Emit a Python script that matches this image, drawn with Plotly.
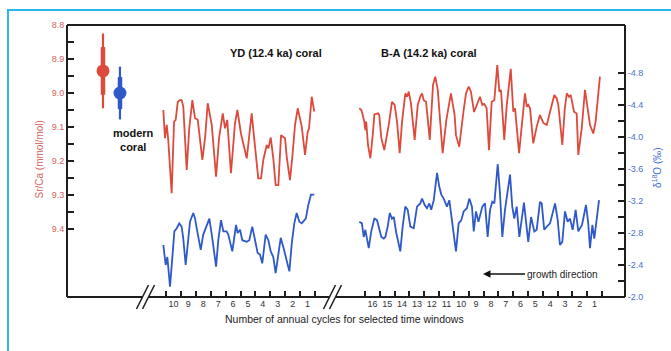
import plotly.graph_objects as go

# ---------------- data ----------------
# YD (12.4 ka) coral, x = annual cycles before the end of the window
yd_srca_cycle = [10.18, 10.07, 9.95, 9.85, 9.62, 9.46, 9.35, 9.21, 9.06, 8.95,
                 8.84, 8.61, 8.44, 8.23, 8.05, 7.87, 7.56, 7.38, 7.20, 6.93,
                 6.64, 6.44, 6.19, 6.04, 5.89, 5.64, 5.37, 5.21, 4.97, 4.58,
                 4.25, 4.03, 3.81, 3.62, 3.47, 3.24, 3.13, 2.97, 2.80, 2.64,
                 2.46, 2.28, 2.01, 1.90, 1.68, 1.52, 1.34, 1.16, 0.89, 0.67,
                 0.49, 0.40, 0.22, 0.05]
yd_srca = [9.050, 9.133, 9.094, 9.138, 9.295, 9.084, 9.079, 9.026, 9.021, 9.021,
           9.040, 9.226, 9.104, 9.021, 9.074, 9.079, 9.197, 9.133, 9.030, 9.094,
           9.246, 9.133, 9.060, 9.104, 9.079, 9.236, 9.089, 9.050, 9.119, 9.192,
           9.060, 9.163, 9.251, 9.251, 9.197, 9.153, 9.163, 9.131, 9.192, 9.271,
           9.271, 9.124, 9.133, 9.187, 9.256, 9.187, 9.094, 9.045, 9.099, 9.182,
           9.114, 9.104, 9.011, 9.055]

yd_d18o_cycle = [10.18, 10.02, 9.91, 9.85, 9.73, 9.58, 9.44, 9.28, 9.11, 8.95,
                 8.84, 8.68, 8.50, 8.39, 8.17, 8.05, 7.94, 7.67, 7.50, 7.34,
                 7.09, 6.89, 6.64, 6.49, 6.31, 6.15, 5.93, 5.82, 5.55, 5.30,
                 5.19, 5.03, 4.88, 4.58, 4.41, 4.21, 4.03, 3.85, 3.69, 3.54,
                 3.31, 3.13, 2.97, 2.80, 2.64, 2.46, 2.30, 2.08, 1.90, 1.72,
                 1.56, 1.39, 1.23, 1.05, 0.89, 0.62, 0.45, 0.27, 0.05]
yd_d18o = [-2.65, -2.40, -2.50, -2.40, -2.13, -2.48, -2.82, -2.86, -2.92, -2.88,
           -2.73, -2.40, -2.78, -2.94, -3.05, -2.98, -2.86, -2.59, -2.78, -2.86,
           -2.98, -2.73, -2.38, -2.71, -2.96, -2.82, -2.82, -2.78, -2.57, -2.90,
           -2.80, -2.84, -2.71, -2.69, -2.71, -2.88, -2.73, -2.55, -2.53, -2.42,
           -2.78, -2.71, -2.57, -2.50, -2.30, -2.57, -2.74, -2.59, -2.44, -2.32,
           -2.67, -2.92, -3.05, -2.94, -2.92, -2.98, -3.15, -3.28, -3.28]

# B-A (14.2 ka) coral
ba_srca_cycle = [16.39, 16.25, 16.16, 16.05, 15.98, 15.92, 15.80, 15.64, 15.48, 15.37,
                 15.12, 15.04, 14.90, 14.70, 14.40, 14.18, 14.00, 13.84, 13.66, 13.50,
                 13.28, 13.17, 13.05, 12.90, 12.65, 12.44, 12.27, 12.15, 12.04, 11.88,
                 11.63, 11.41, 11.26, 11.09, 10.76, 10.51, 10.20, 9.95, 9.86, 9.64,
                 9.34, 9.18, 9.00, 8.85, 8.64, 8.24, 8.08, 7.95, 7.79, 7.63,
                 7.45, 7.27, 7.07, 6.93, 6.82, 6.60, 6.43, 6.16, 5.99, 5.87,
                 5.60, 5.42, 5.20, 5.08, 4.98, 4.86, 4.64, 4.41, 4.19, 3.96,
                 3.73, 3.51, 3.22, 3.06, 2.95, 2.68, 2.52, 2.38, 2.23, 2.11,
                 1.89, 1.71, 1.60, 1.37, 1.15, 0.97, 0.81, 0.59, 0.43, 0.14]
ba_srca = [9.045, 9.050, 9.065, 9.084, 9.109, 9.084, 9.153, 9.192, 9.124, 9.063,
           9.060, 9.065, 9.133, 9.168, 9.094, 9.026, 9.035, 9.084, 9.177, 9.084,
           9.001, 9.011, 8.996, 9.030, 9.138, 9.035, 9.011, 9.001, 9.021, 9.026,
           9.138, 8.976, 8.952, 8.991, 9.177, 9.079, 9.001, 9.065, 9.124, 9.158,
           9.050, 9.001, 8.981, 8.996, 9.056, 9.011, 9.035, 9.032, 9.044, 9.168,
           9.026, 9.021, 8.918, 8.996, 8.991, 9.138, 9.035, 8.929, 9.055, 9.045,
           9.177, 9.094, 9.001, 9.040, 9.035, 9.045, 9.148, 9.099, 9.065, 9.088,
           9.094, 9.056, 9.006, 9.016, 9.035, 9.153, 9.050, 9.001, 9.011, 9.006,
           9.055, 9.060, 9.182, 9.104, 8.991, 9.045, 9.094, 9.119, 9.084, 8.952]

ba_d18o_cycle = [16.39, 16.21, 16.09, 15.98, 15.87, 15.75, 15.58, 15.37, 15.19, 15.08,
                 14.90, 14.74, 14.63, 14.47, 14.33, 14.18, 14.06, 13.89, 13.62, 13.46,
                 13.28, 13.12, 12.94, 12.71, 12.49, 12.27, 12.15, 11.97, 11.82, 11.66,
                 11.53, 11.36, 11.14, 10.99, 10.85, 10.69, 10.47, 10.31, 10.13, 9.86,
                 9.68, 9.50, 9.34, 9.12, 8.96, 8.78, 8.66, 8.51, 8.34, 8.08,
                 7.90, 7.72, 7.56, 7.41, 7.27, 7.04, 6.89, 6.73, 6.55, 6.21,
                 6.06, 5.92, 5.76, 5.58, 5.27, 5.08, 4.98, 4.79, 4.57, 4.41,
                 4.19, 4.07, 3.90, 3.73, 3.51, 3.36, 3.17, 2.99, 2.84, 2.68,
                 2.50, 2.32, 2.16, 1.98, 1.78, 1.60, 1.35, 1.08, 0.93, 0.81,
                 0.65, 0.52, 0.36, 0.20]
ba_d18o = [-2.94, -2.92, -2.75, -2.84, -2.73, -2.61, -2.82, -2.98, -2.96, -2.88,
           -2.75, -2.73, -2.75, -2.88, -3.05, -2.98, -3.00, -2.80, -2.57, -2.88,
           -3.13, -3.09, -2.88, -2.86, -3.13, -3.17, -3.23, -3.15, -3.11, -3.17,
           -3.09, -3.21, -3.55, -3.38, -3.28, -3.23, -3.13, -3.21, -2.96, -2.57,
           -2.92, -2.96, -3.07, -3.11, -3.23, -3.13, -2.82, -3.07, -2.94, -3.13,
           -3.17, -2.75, -3.09, -3.19, -3.17, -3.66, -3.30, -2.75, -3.09, -3.53,
           -3.13, -2.98, -3.13, -2.75, -3.18, -2.88, -2.69, -3.00, -2.82, -2.84,
           -3.19, -3.17, -2.84, -2.88, -2.92, -3.03, -3.17, -2.96, -2.65, -2.69,
           -3.07, -2.94, -2.98, -2.84, -3.09, -2.82, -2.90, -3.15, -2.92, -2.61,
           -2.90, -2.73, -3.00, -3.21]

# modern coral
modern_proxy = ["Sr/Ca", "d18O"]
modern_srca = [8.935]
modern_srca_err1 = [0.07]
modern_srca_err2 = [0.11]
modern_d18o = [-4.55]
modern_d18o_err1 = [0.20]
modern_d18o_err2 = [0.33]

yd_cycle_labels = ["10", "9", "8", "7", "6", "5", "4", "3", "2", "1"]
ba_cycle_labels = ["16", "15", "14", "13", "12", "11", "10", "9", "8", "7",
                   "6", "5", "4", "3", "2", "1"]
srca_ticks = [8.8, 8.9, 9.0, 9.1, 9.2, 9.3, 9.4]
srca_minor = [8.85, 8.95, 9.05, 9.15, 9.25, 9.35]
d18o_ticks = [-2.0, -2.4, -2.8, -3.2, -3.6, -4.0, -4.4, -4.8]
d18o_minor = [-2.2, -2.6, -3.0, -3.4, -3.8, -4.2, -4.6]

# ---------------- styling / geometry ----------------
W, H = 671, 351
PL, PR, PT, PB = 67, 625, 25, 297
RED = "#dd4a3c"
BLUE = "#2f58c9"
RED_TXT = "#d3645d"
BLUE_TXT = "#4a6fd3"
INK = "#1e1e1e"
FONT = "Liberation Sans, Arial, sans-serif"


def X(px):
    return (px - PL) / (PR - PL)


def Y(py):
    return (PB - py) / (PB - PT)


# cycle scales (pixels per cycle and pixel of cycle 0)
YD_PPC, YD_ZERO = 14.9, 315.0
BA_PPC, BA_ZERO = 14.81, 602.0
yd_dom = (148, 331)
ba_dom = (336, PR)

fig = go.Figure()

line_r = dict(color=RED, width=1.8)
line_b = dict(color=BLUE, width=1.8)
fig.add_trace(go.Scatter(x=yd_srca_cycle, y=yd_srca, mode="lines", line=line_r,
                         xaxis="x", yaxis="y", showlegend=False))
fig.add_trace(go.Scatter(x=yd_d18o_cycle, y=yd_d18o, mode="lines", line=line_b,
                         xaxis="x", yaxis="y2", showlegend=False))
fig.add_trace(go.Scatter(x=ba_srca_cycle, y=ba_srca, mode="lines", line=line_r,
                         xaxis="x2", yaxis="y", showlegend=False))
fig.add_trace(go.Scatter(x=ba_d18o_cycle, y=ba_d18o, mode="lines", line=line_b,
                         xaxis="x2", yaxis="y2", showlegend=False))

# modern coral: thin (2 sigma) and thick (1 sigma) bars with dot
fig.add_trace(go.Scatter(x=[modern_proxy[0]], y=modern_srca, mode="markers",
                         marker=dict(size=1, color=RED, opacity=0),
                         error_y=dict(type="data", array=modern_srca_err2, width=0,
                                      thickness=2.2, color=RED),
                         xaxis="x3", yaxis="y", showlegend=False))
fig.add_trace(go.Scatter(x=[modern_proxy[0]], y=modern_srca, mode="markers",
                         marker=dict(size=13, color=RED),
                         error_y=dict(type="data", array=modern_srca_err1, width=0,
                                      thickness=4.5, color=RED),
                         xaxis="x3", yaxis="y", showlegend=False))
fig.add_trace(go.Scatter(x=[modern_proxy[1]], y=modern_d18o, mode="markers",
                         marker=dict(size=1, color=BLUE, opacity=0),
                         error_y=dict(type="data", array=modern_d18o_err2, width=0,
                                      thickness=2.2, color=BLUE),
                         xaxis="x3", yaxis="y2", showlegend=False))
fig.add_trace(go.Scatter(x=[modern_proxy[1]], y=modern_d18o, mode="markers",
                         marker=dict(size=13, color=BLUE),
                         error_y=dict(type="data", array=modern_d18o_err1, width=0,
                                      thickness=4.5, color=BLUE),
                         xaxis="x3", yaxis="y2", showlegend=False))

tickfont = dict(family=FONT, size=9, color="#333")
common_x = dict(showgrid=False, zeroline=False, showline=False, anchor="y",
                ticks="", tickfont=tickfont, automargin=False)

fig.update_layout(
    width=W, height=H, autosize=False,
    margin=dict(l=PL, r=W - PR, t=PT, b=H - PB, pad=0, autoexpand=False),
    paper_bgcolor="white", plot_bgcolor="white",
    font=dict(family=FONT, color=INK),
    xaxis=dict(common_x, domain=[X(yd_dom[0]), X(yd_dom[1])],
               range=[(YD_ZERO - yd_dom[0]) / YD_PPC, (YD_ZERO - yd_dom[1]) / YD_PPC],
               tickmode="array",
               tickvals=[len(yd_cycle_labels) - i - 0.5 for i in range(len(yd_cycle_labels))],
               ticktext=yd_cycle_labels,
               minor=dict(tickmode="array", tickvals=list(range(len(yd_cycle_labels) + 1)),
                          ticks="inside", ticklen=6, tickwidth=1.6, tickcolor=INK)),
    xaxis2=dict(common_x, domain=[X(ba_dom[0]), X(ba_dom[1])],
                range=[(BA_ZERO - ba_dom[0]) / BA_PPC, (BA_ZERO - ba_dom[1]) / BA_PPC],
                tickmode="array",
                tickvals=[len(ba_cycle_labels) - i - 0.5 for i in range(len(ba_cycle_labels))],
                ticktext=ba_cycle_labels,
                minor=dict(tickmode="array", tickvals=list(range(len(ba_cycle_labels) + 1)),
                           ticks="inside", ticklen=6, tickwidth=1.6, tickcolor=INK)),
    xaxis3=dict(showgrid=False, zeroline=False, showline=False, anchor="y",
                domain=[0, X(140)], type="category", categoryorder="array",
                categoryarray=modern_proxy, range=[-2.12, 2.18],
                showticklabels=False, ticks="", automargin=False),
    yaxis=dict(domain=[0, 1], range=[9.6, 8.8], anchor="free", position=0,
               automargin=False,
               showgrid=False, zeroline=False, showline=True, linecolor=INK, linewidth=2,
               tickmode="array", tickvals=srca_ticks,
               ticktext=["%.1f" % v for v in srca_ticks],
               ticks="inside", ticklen=6, tickwidth=1.6, tickcolor=INK,
               tickfont=dict(family=FONT, size=9, color=RED_TXT),
               minor=dict(tickmode="array", tickvals=srca_minor, ticks="inside",
                          ticklen=6, tickwidth=1.6, tickcolor=INK)),
    yaxis2=dict(overlaying="y", side="right", anchor="free", position=1,
                automargin=False,
                range=[-2.0, -5.4],
                showgrid=False, zeroline=False, showline=True, linecolor=INK, linewidth=2,
                tickmode="array", tickvals=d18o_ticks,
                ticktext=["%.1f" % v for v in d18o_ticks],
                ticks="inside", ticklen=6, tickwidth=1.6, tickcolor=INK,
                tickfont=dict(family=FONT, size=9, color=BLUE_TXT),
                minor=dict(tickmode="array", tickvals=d18o_minor, ticks="inside",
                           ticklen=6, tickwidth=1.6, tickcolor=INK)),
)

shapes = []
# outer cyan frame (right and bottom edges fall outside the picture)
shapes.append(dict(type="rect", xref="paper", yref="paper",
                   x0=X(8), x1=X(700), y0=Y(380), y1=Y(10),
                   line=dict(color="#2bb7e9", width=2)))
# top frame line
shapes.append(dict(type="line", xref="paper", yref="paper",
                   x0=0, x1=1, y0=1, y1=1, line=dict(color=INK, width=2)))
# broken bottom axis
for a, b in [(PL, 142.5), (148.5, 329.5), (335.5, PR)]:
    shapes.append(dict(type="line", xref="paper", yref="paper",
                       x0=X(a), x1=X(b), y0=0, y1=0, line=dict(color=INK, width=2)))
# break marks //
for cx in [142.5, 148.5, 329.5, 335.5]:
    shapes.append(dict(type="line", xref="paper", yref="paper",
                       x0=X(cx - 6), x1=X(cx + 6), y0=Y(309), y1=Y(285),
                       line=dict(color=INK, width=1.6)))

annotations = [
    dict(text="<b>YD (12.4 ka) coral</b>", x=X(228), y=Y(45), xref="paper", yref="paper",
         showarrow=False, font=dict(size=11, color="#111")),
    dict(text="<b>B-A (14.2 ka) coral</b>", x=X(479), y=Y(45), xref="paper", yref="paper",
         showarrow=False, font=dict(size=11, color="#111")),
    dict(text="<b>modern<br>coral</b>", x=X(111), y=Y(140), xref="paper", yref="paper",
         showarrow=False, font=dict(size=11, color="#111"), align="center"),
    dict(text="growth direction", x=X(483), y=Y(274), ax=79, ay=0,
         xref="paper", yref="paper", axref="pixel", ayref="pixel",
         showarrow=True, arrowhead=2, arrowsize=1, arrowwidth=1.5, arrowcolor="#111",
         standoff=0, borderpad=1, font=dict(size=10, color="#222")),
    dict(text="Number of annual cycles for selected time windows", x=X(344), y=Y(327),
         xref="paper", yref="paper", showarrow=False, font=dict(size=10.5, color="#222")),
    dict(text="Sr/Ca (mmol/mol)", x=X(31), y=Y(160), xref="paper", yref="paper",
         showarrow=False, textangle=-90, font=dict(size=10, color=RED_TXT)),
    dict(text="δ<sup>18</sup>O (‰)", x=X(665), y=Y(168), xref="paper", yref="paper",
         showarrow=False, textangle=-90, font=dict(size=10, color=BLUE_TXT)),
]

fig.update_layout(shapes=shapes, annotations=annotations)
fig.write_html("out.html", config={"displayModeBar": False},
               post_script="document.body.style.margin='0';document.body.style.overflow='hidden';")
